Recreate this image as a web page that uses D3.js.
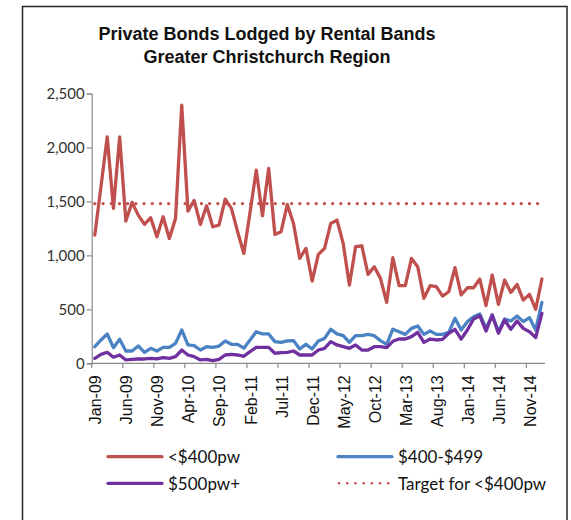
<!DOCTYPE html>
<html>
<head>
<meta charset="utf-8">
<script src="https://cdn.jsdelivr.net/npm/d3@7"></script>
<style>
  html, body { margin: 0; padding: 0; background: #fff; }
  svg { display: block; }
</style>
</head>
<body>
<svg id="chart" width="571" height="520"></svg>
<script>
// Monthly private bonds lodged, Jan-2009 to Jan-2015
const months = d3.utcMonth.range(new Date(Date.UTC(2009, 0, 1)), new Date(Date.UTC(2015, 1, 1)));
const fmt = d3.utcFormat("%b-%y");
const categories = months.map(fmt);

const under400 = [
  1188, 1640, 2098, 1435, 2098, 1318, 1491, 1373, 1287, 1349,
  1173, 1358, 1157, 1342, 2392, 1410, 1509, 1287, 1460, 1265,
  1281, 1521, 1435, 1219, 1018, 1400, 1790, 1367, 1805, 1194,
  1219, 1472, 1296, 972, 1065, 762, 1009, 1065, 1296, 1327,
  1111, 725, 1080, 1089, 824, 895, 787, 565, 978, 719,
  719, 972, 895, 602, 719, 710, 623, 663, 886, 633,
  700, 700, 781, 534, 818, 546, 772, 657, 731, 586,
  639, 500, 781
];
const band400to499 = [
  154, 216, 272, 145, 222, 114, 114, 160, 102, 139,
  114, 148, 148, 185, 309, 170, 164, 123, 154, 148,
  160, 207, 176, 176, 140, 216, 293, 272, 272, 201,
  194, 207, 210, 133, 176, 133, 207, 231, 315, 272,
  256, 194, 256, 256, 268, 256, 210, 176, 316, 293,
  268, 324, 346, 268, 299, 268, 268, 287, 417, 309,
  386, 432, 457, 324, 447, 293, 410, 392, 438, 386,
  423, 309, 565
];
const over500 = [
  46, 83, 102, 56, 77, 31, 37, 40, 40, 46,
  40, 52, 46, 62, 123, 77, 62, 31, 37, 25,
  37, 77, 83, 77, 65, 108, 148, 148, 148, 93,
  99, 102, 114, 77, 77, 77, 123, 139, 201, 170,
  154, 139, 170, 123, 123, 154, 154, 145, 204, 225,
  225, 247, 287, 194, 225, 216, 222, 278, 315, 225,
  309, 410, 441, 299, 447, 278, 401, 315, 392, 324,
  293, 238, 463
];
const targetUnder400 = 1480;

const tickLabels = ["Jan-09","Jun-09","Nov-09","Apr-10","Sep-10","Feb-11","Jul-11",
  "Dec-11","May-12","Oct-12","Mar-13","Aug-13","Jan-14","Jun-14","Nov-14"];
const yTicks = [0, 500, 1000, 1500, 2000, 2500];

const titleLines = ["Private Bonds Lodged by Rental Bands", "Greater Christchurch Region"];

const series = [
  { name: "<$400pw", values: under400, color: "#C0504D" },
  { name: "$400-$499", values: band400to499, color: "#4A82C3" },
  { name: "$500pw+", values: over500, color: "#7030A0" }
];

const svg = d3.select("#chart");

// outer frame
svg.append("rect")
  .attr("x", 22.5).attr("y", 6.5)
  .attr("width", 544.5).attr("height", 540)
  .attr("fill", "#fff")
  .attr("stroke", "#262626").attr("stroke-width", 1.5);

// title
svg.append("g").selectAll("text")
  .data(titleLines)
  .join("text")
  .attr("x", 267)
  .attr("y", (d, i) => 40 + i * 23)
  .attr("text-anchor", "middle")
  .attr("font-family", "Liberation Sans, Arial, sans-serif")
  .attr("font-weight", "bold")
  .attr("font-size", 18)
  .attr("fill", "#111")
  .text(d => d);

const x = d3.scaleBand().domain(categories).range([91.7, 545]).padding(0);
const y = d3.scaleLinear().domain([0, 2500]).range([363.3, 93.5]);
const cx = i => x(categories[i]) + x.bandwidth() / 2;

// y axis
const yAxis = svg.append("g")
  .attr("transform", "translate(91.7,0)")
  .call(d3.axisLeft(y).tickValues(yTicks).tickFormat(d3.format(",")).tickSizeOuter(0).tickSize(5).tickPadding(2));
yAxis.select(".domain").attr("stroke", "#8a8a8a").attr("stroke-width", 1.2);
yAxis.selectAll(".tick line").attr("stroke", "#8a8a8a").attr("stroke-width", 1.2);
yAxis.selectAll(".tick text")
  .attr("font-family", "Lato, sans-serif")
  .attr("font-size", 15)
  .attr("fill", "#333");

// x axis: ticks between categories every five months
const tickIdx = tickLabels.map(l => categories.indexOf(l));
const xg = svg.append("g").attr("transform", "translate(0,363.3)");
xg.append("line")
  .attr("x1", 91.7).attr("x2", 545)
  .attr("stroke", "#8a8a8a").attr("stroke-width", 1.2);
xg.selectAll("line.tk")
  .data(tickIdx)
  .join("line")
  .attr("class", "tk")
  .attr("x1", i => x(categories[i])).attr("x2", i => x(categories[i]))
  .attr("y1", 0).attr("y2", 5)
  .attr("stroke", "#8a8a8a").attr("stroke-width", 1.2);
xg.selectAll("text")
  .data(tickIdx)
  .join("text")
  .attr("transform", i => `translate(${cx(i) + 1},12) rotate(-90)`)
  .attr("text-anchor", "end")
  .attr("dominant-baseline", "central")
  .attr("font-family", "Liberation Sans, Arial, sans-serif")
  .attr("font-size", 16)
  .attr("fill", "#111")
  .text(i => categories[i]);

// target line
svg.append("line")
  .attr("x1", cx(0)).attr("x2", cx(categories.length - 1))
  .attr("y1", y(targetUnder400)).attr("y2", y(targetUnder400))
  .attr("stroke", "#C0504D").attr("stroke-width", 3.2)
  .attr("stroke-linecap", "round")
  .attr("stroke-dasharray", "0.1,8.1");

const line = d3.line().x((d, i) => cx(i)).y(d => y(d));

svg.append("g").selectAll("path")
  .data(series)
  .join("path")
  .attr("d", s => line(s.values))
  .attr("fill", "none")
  .attr("stroke", s => s.color)
  .attr("stroke-width", 3.3)
  .attr("stroke-linejoin", "round")
  .attr("stroke-linecap", "round");

// legend
const legendItems = [
  { name: "<$400pw", color: "#C0504D", dotted: false, x: 108, y: 456.7 },
  { name: "$400-$499", color: "#4A82C3", dotted: false, x: 338, y: 456.7 },
  { name: "$500pw+", color: "#7030A0", dotted: false, x: 108, y: 483.3 },
  { name: "Target for <$400pw", color: "#C0504D", dotted: true, x: 338, y: 483.3 }
];
const lg = svg.append("g").selectAll("g").data(legendItems).join("g")
  .attr("transform", d => `translate(${d.x},${d.y})`);
lg.append("line")
  .attr("x1", d => d.dotted ? 1 : 0).attr("x2", 54)
  .attr("y1", 0).attr("y2", 0)
  .attr("stroke", d => d.color)
  .attr("stroke-width", d => d.dotted ? 2.6 : 3.3)
  .attr("stroke-linecap", "round")
  .attr("stroke-dasharray", d => d.dotted ? "0.1,8.1" : null);
lg.append("text")
  .attr("x", 60).attr("y", 0)
  .attr("dominant-baseline", "central")
  .attr("font-family", "Lato, sans-serif")
  .attr("font-size", 17)
  .attr("fill", "#111")
  .text(d => d.name);
</script>
</body>
</html>
